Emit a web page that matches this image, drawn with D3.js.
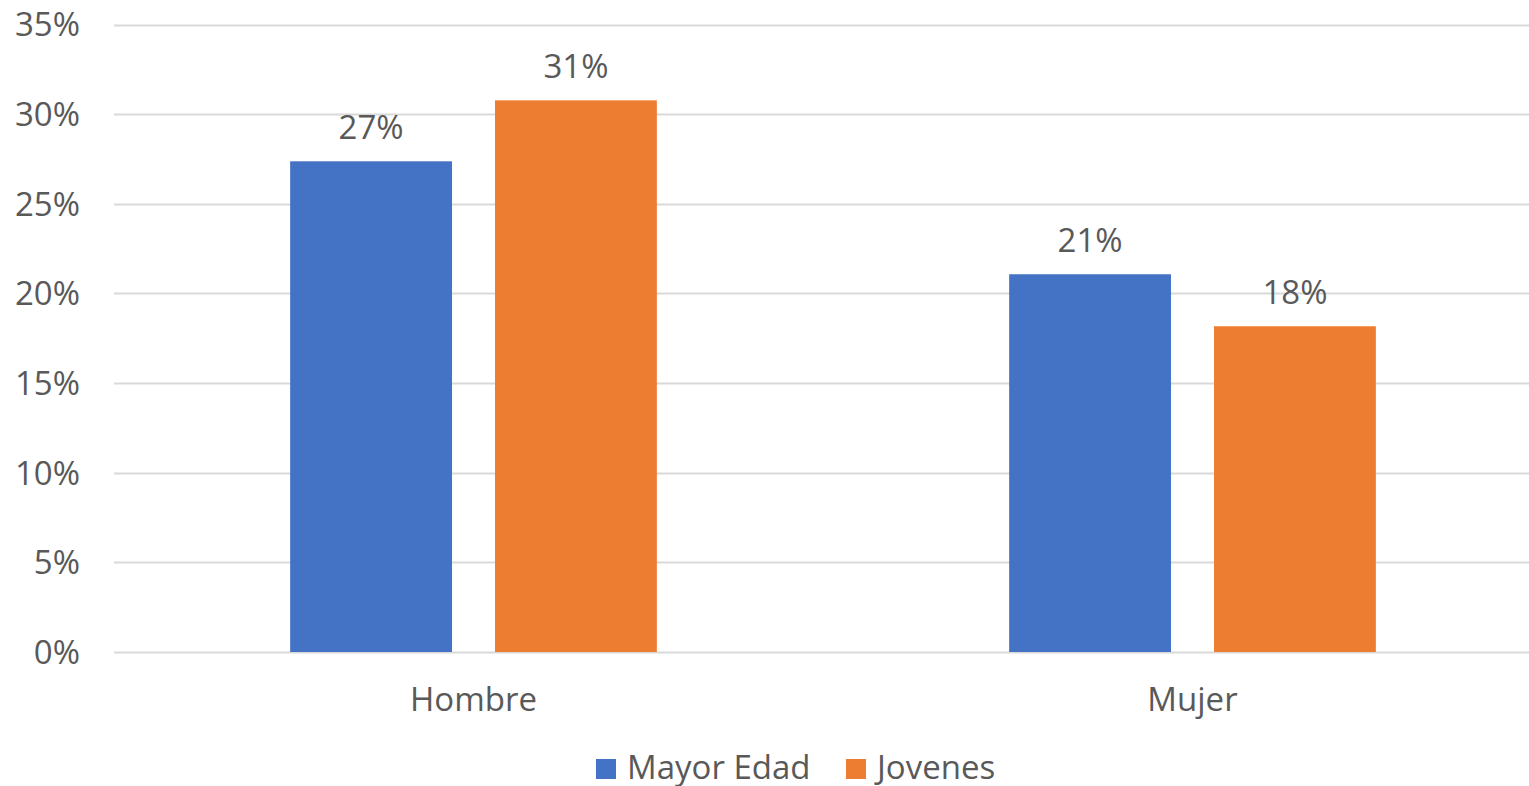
<!DOCTYPE html>
<html><head><meta charset="utf-8">
<script src="https://cdn.jsdelivr.net/npm/d3@7"></script>
<style>body{margin:0;background:#fff}svg{display:block}text{font-family:"Open Sans",sans-serif;fill:#595959}</style>
</head><body><svg id="c" width="1529" height="786"></svg>
<script>
const categories = ["Hombre", "Mujer"];
const series = ["Mayor Edad", "Jovenes"];
const mayorEdad = [0.2737, 0.2107];
const jovenes = [0.3077, 0.1817];
const valueLabels = [["27%", "21%"], ["31%", "18%"]];
const yTicks = [0, 0.05, 0.10, 0.15, 0.20, 0.25, 0.30, 0.35];
const colors = ["#4472C4", "#ED7D31"];

const svg = d3.select("#c");
const plotLeft = 114, plotRight = 1552, plotTop = 24.5, plotBottom = 652;
const fs = "33px";
const y = d3.scaleLinear().domain([0, 0.35]).range([plotBottom, plotTop]);
const x0 = d3.scaleBand().domain(categories).range([plotLeft, plotRight]).paddingInner(0.49).paddingOuter(0.245);
const x1 = d3.scaleBand().domain(series).range([0, x0.bandwidth()]).paddingInner(0.21);

// gridlines
svg.append("g").selectAll("line").data(yTicks).join("line")
  .attr("x1", plotLeft).attr("x2", 1529)
  .attr("y1", d => Math.round(y(d)) + 0.5).attr("y2", d => Math.round(y(d)) + 0.5)
  .attr("stroke", "#D9D9D9").attr("stroke-width", 2);

// y labels
svg.append("g").selectAll("text").data(yTicks).join("text")
  .attr("x", 80).attr("y", d => y(d)).attr("dy", "0.36em")
  .attr("text-anchor", "end").style("font-size", fs)
  .text(d => d3.format(".0%")(d));

const data = [mayorEdad, jovenes];
series.forEach((s, si) => {
  const g = svg.append("g");
  g.selectAll("rect").data(categories).join("rect")
    .attr("x", c => x0(c) + x1(s)).attr("width", x1.bandwidth())
    .attr("y", (c, i) => y(data[si][i])).attr("height", (c, i) => plotBottom - y(data[si][i]))
    .attr("fill", colors[si]);
  g.selectAll("text").data(categories).join("text")
    .attr("x", c => x0(c) + x1(s) + x1.bandwidth() / 2)
    .attr("y", (c, i) => y(data[si][i]) - 22)
    .attr("text-anchor", "middle").style("font-size", fs)
    .text((c, i) => valueLabels[si][i]);
});

// category labels
svg.append("g").selectAll("text").data(categories).join("text")
  .attr("x", c => x0(c) + x0.bandwidth() / 2).attr("y", 711)
  .attr("text-anchor", "middle").style("font-size", fs).text(c => c);

// legend
const legendX = [596, 846];
const lg = svg.append("g");
series.forEach((s, i) => {
  lg.append("rect").attr("x", legendX[i]).attr("y", 759).attr("width", 20).attr("height", 20).attr("fill", colors[i]);
  lg.append("text").attr("x", legendX[i] + 31).attr("y", 779).style("font-size", fs).text(s);
});
</script></body></html>
